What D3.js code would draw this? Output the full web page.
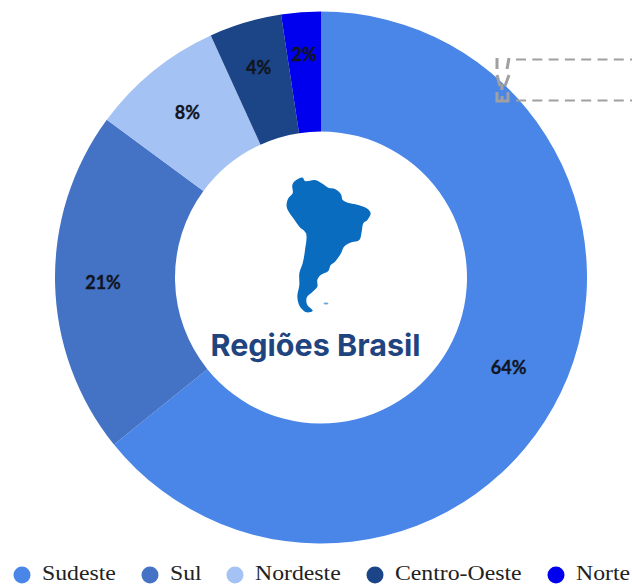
<!DOCTYPE html>
<html>
<head>
<meta charset="utf-8">
<script src="https://cdn.jsdelivr.net/npm/d3@7"></script>
<style>
  html, body { margin: 0; padding: 0; background: #fff; overflow: hidden; }
</style>
</head>
<body>
<div id="chart"></div>
<script>
// Dados
const regions = ["Sudeste", "Sul", "Nordeste", "Centro-Oeste", "Norte"];
const shares = [64.2, 20.9, 8.1, 4.4, 2.4];
const colors = ["#4a86e8", "#4472c4", "#a4c2f4", "#1c4587", "#0000ee"];
const legendX = [22, 150, 235, 375, 556];
const labelRadius = [208, 218, 212, 219, 223];

// Contorno decorativo da America do Sul
const continent = [[97,60],[105,48],[128,38],[135,48],[165,45],[185,55],[205,68],[225,72],[243,88],[248,105],
  [270,115],[295,120],[320,130],[332,145],[322,165],[310,175],[305,200],[298,225],[275,232],[252,245],
  [243,265],[225,290],[212,300],[205,318],[182,330],[172,345],[172,365],[158,380],[140,398],[142,420],
  [158,437],[140,442],[120,425],[112,395],[118,360],[118,325],[128,295],[135,255],[138,205],[118,185],
  [100,160],[80,125],[85,100],[98,85]];

const width = 632, height = 585;
const cx = 321, cy = 277.5, outerR = 266, innerR = 146;

const svg = d3.select("#chart").append("svg")
    .attr("width", width)
    .attr("height", height)
    .style("display", "block");

// Rosca
const pie = d3.pie().sort(null).value(d => d);
const arc = d3.arc().innerRadius(innerR).outerRadius(outerR);
const slices = pie(shares);

const donut = svg.append("g").attr("transform", `translate(${cx},${cy})`);

donut.selectAll("path")
    .data(slices)
    .join("path")
    .attr("d", arc)
    .attr("fill", (d, i) => colors[i]);

donut.selectAll("text")
    .data(slices)
    .join("text")
    .attr("transform", (d, i) => {
        const a = (d.startAngle + d.endAngle) / 2;
        return `translate(${labelRadius[i] * Math.sin(a)},${-labelRadius[i] * Math.cos(a)})`;
    })
    .attr("text-anchor", "middle")
    .attr("dy", "0.35em")
    .attr("font-family", "Lato, sans-serif")
    .attr("font-weight", 700)
    .attr("font-size", 18)
    .attr("fill", "#10151f")
    .attr("stroke", "#10151f")
    .attr("stroke-width", 0.3)
    .text(d => `${d3.format(".0f")(d.value)}%`);

// Mapa no centro
const mapX = d3.scaleLinear().domain([0, 3]).range([260, 261]);
const mapY = d3.scaleLinear().domain([0, 3]).range([165, 166]);
const outline = d3.line()
    .x(d => mapX(d[0]))
    .y(d => mapY(d[1]))
    .curve(d3.curveCatmullRomClosed.alpha(0.5));
svg.append("path")
    .attr("d", outline(continent))
    .attr("fill", "#0a6cbf");
svg.append("ellipse")
    .attr("cx", 326).attr("cy", 303.5)
    .attr("rx", 2.5).attr("ry", 1)
    .attr("fill", "#6fa5d6");

svg.append("text")
    .attr("x", 315.5)
    .attr("y", 356)
    .attr("text-anchor", "middle")
    .attr("font-family", "Inter, Lato, sans-serif")
    .attr("font-weight", 700)
    .attr("font-size", 30.5)
    .attr("fill", "#1f4480")
    .text("Regiões Brasil");

// Caixa tracejada e alcas no canto direito
const guides = svg.append("g").attr("stroke", "#a0a0a0").attr("fill", "none");
[59.5, 100.5].forEach(y => {
    guides.append("line")
        .attr("x1", 516).attr("x2", 632)
        .attr("y1", y).attr("y2", y)
        .attr("stroke-width", 2)
        .attr("stroke-dasharray", "10 6.3");
});
guides.append("path")
    .attr("stroke-width", 3)
    .attr("d", "M497 58V69M509 58L507 69M497 75L500 86M509 75L505 86M502 84V90M497 92V101H508V92M502 96V101");

// Legenda
const legend = svg.append("g");
legend.selectAll("circle")
    .data(regions)
    .join("circle")
    .attr("cx", (d, i) => legendX[i])
    .attr("cy", 575)
    .attr("r", 8.5)
    .attr("fill", (d, i) => colors[i]);

legend.selectAll("text")
    .data(regions)
    .join("text")
    .attr("transform", (d, i) => `translate(${legendX[i] + 20},580) scale(1.08,1)`)
    .attr("font-family", "'Liberation Serif', serif")
    .attr("font-size", 22)
    .attr("fill", "#222")
    .text(d => d);
</script>
</body>
</html>
